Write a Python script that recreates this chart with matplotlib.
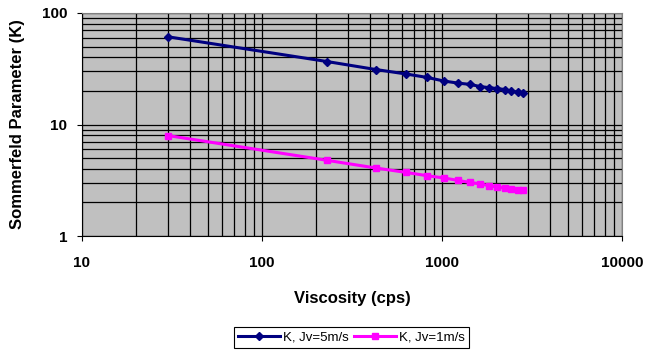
import matplotlib
matplotlib.use("Agg")
import matplotlib.pyplot as plt
from matplotlib.ticker import LogLocator, FixedLocator, NullFormatter, FixedFormatter

viscosity = [30, 230, 430, 630, 830, 1030, 1230, 1430, 1630, 1830, 2030, 2230, 2430, 2630, 2830]
k_5 = [61.2, 36.7, 31.1, 28.4, 26.4, 24.5, 23.5, 22.9, 21.9, 21.4, 21.0, 20.6, 19.9, 19.5, 19.1]
k_1 = [7.96, 4.77, 4.07, 3.72, 3.47, 3.31, 3.15, 3.02, 2.94, 2.82, 2.75, 2.69, 2.63, 2.58, 2.56]
x_ticks = [10, 100, 1000, 10000]
y_ticks = [1, 10, 100]
labels = ["K, Jv=5m/s", "K, Jv=1m/s"]

plt.rcParams['font.family'] = ['Liberation Sans', 'DejaVu Sans']

fig = plt.figure(figsize=(6.46, 3.53), dpi=100)
ax = fig.add_axes([82/646, 1-236/353, (622-82)/646, (236-13)/353])
ax.set_facecolor('#C0C0C0')
ax.set_xscale('log')
ax.set_yscale('log')
ax.set_xlim(10, 10000)
ax.set_ylim(1, 100)

ax.plot(viscosity, k_5, color='#000080', lw=2.2, marker='D', ms=4, label=labels[0], zorder=3)
ax.plot(viscosity, k_1, color='#FF00FF', lw=2.2, marker='s', ms=4.5, label=labels[1], zorder=3)

ax.xaxis.set_major_locator(FixedLocator(x_ticks))
ax.xaxis.set_major_formatter(FixedFormatter([str(v) for v in x_ticks]))
ax.yaxis.set_major_locator(FixedLocator(y_ticks))
ax.yaxis.set_major_formatter(FixedFormatter([str(v) for v in y_ticks]))
ax.xaxis.set_minor_locator(LogLocator(base=10, subs=range(2, 10)))
ax.yaxis.set_minor_locator(LogLocator(base=10, subs=range(2, 10)))
ax.xaxis.set_minor_formatter(NullFormatter())
ax.yaxis.set_minor_formatter(NullFormatter())

ax.grid(True, which='both', color='black', lw=0.9)
ax.set_axisbelow(True)
ax.tick_params(which='minor', length=0)
ax.tick_params(which='major', direction='out', length=3.6, width=0.8, color='black')
ax.tick_params(axis='x', which='major', pad=11)
ax.tick_params(axis='y', which='major', pad=7)
for lab in ax.get_xticklabels() + ax.get_yticklabels():
    lab.set_fontweight('bold')
    lab.set_fontsize(11)

ax.spines['top'].set_color('#808080')
ax.spines['right'].set_color('#808080')
ax.spines['left'].set_color('black')
ax.spines['bottom'].set_color('black')

ax.set_xlabel('Viscosity (cps)', fontsize=12, fontweight='bold', va='center', ha='center')
ax.set_ylabel('Sommerfeld Parameter (K)', fontsize=12, fontweight='bold', va='center', ha='center')
ax.xaxis.set_label_coords(0.5, -(298 - 236) / 223)
ax.yaxis.set_label_coords(-(82 - 17.5) / 540, 0.5)

leg = fig.legend(loc='upper center', bbox_to_anchor=(351.5/646, 1 - 326.7/353), ncol=2, fontsize=9.5,
                 frameon=True, fancybox=False, edgecolor='black', framealpha=1,
                 handlelength=3.2, columnspacing=0.4, handletextpad=0.2, borderpad=0.35,
                 borderaxespad=0)
leg.get_frame().set_linewidth(0.8)

fig.savefig('out.png', dpi=100)
